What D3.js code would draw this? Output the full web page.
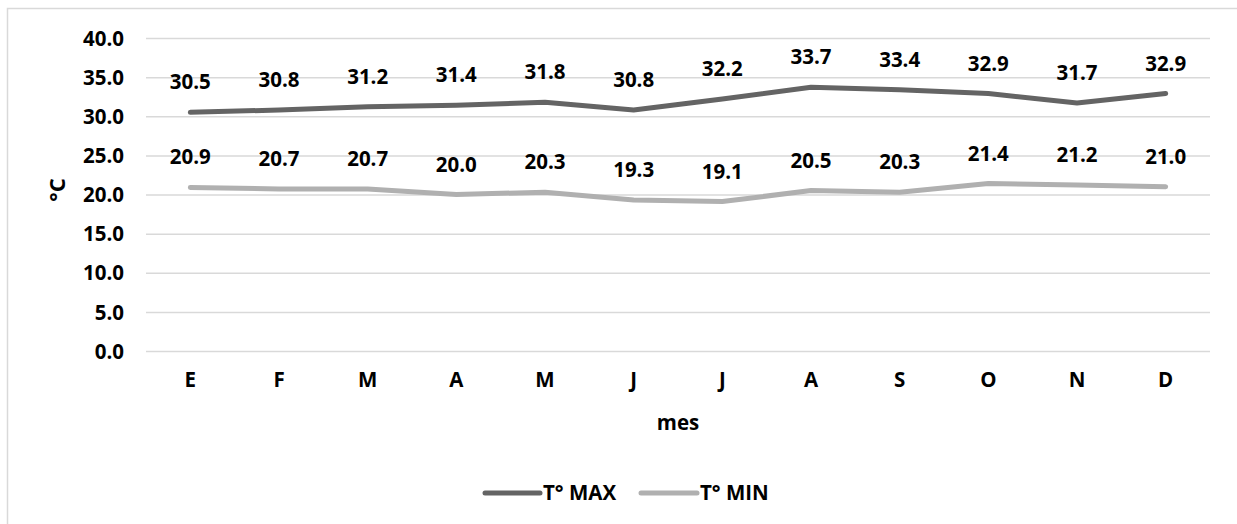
<!DOCTYPE html>
<html>
<head>
<meta charset="utf-8">
<script src="https://cdn.jsdelivr.net/npm/d3@7"></script>
<style>
  html, body { margin: 0; padding: 0; background: #fff; }
  svg { display: block; }
  text { font-family: "Open Sans", "Liberation Sans", sans-serif; font-weight: 700; fill: #000; }
</style>
</head>
<body>
<svg id="chart" width="1237" height="524"></svg>
<script>
// Monthly temperatures (°C)
const months = ["E", "F", "M", "A", "M", "J", "J", "A", "S", "O", "N", "D"];
const tMax = [30.5, 30.8, 31.2, 31.4, 31.8, 30.8, 32.2, 33.7, 33.4, 32.9, 31.7, 32.9];
const tMin = [20.9, 20.7, 20.7, 20.0, 20.3, 19.3, 19.1, 20.5, 20.3, 21.4, 21.2, 21.0];
const yTicks = [0, 5, 10, 15, 20, 25, 30, 35, 40];
const seriesNames = ["T° MAX", "T° MIN"];

const series = [
  { name: seriesNames[0], values: tMax, color: "#646464" },
  { name: seriesNames[1], values: tMin, color: "#b0b0b0" }
];

const FS = 20.5;

const svg = d3.select("#chart");
const W = 1237, H = 524;
const plot = { left: 146, right: 1210, top: 38, bottom: 351 };

// Outer frame (top and left edges visible in the window)
svg.append("path")
  .attr("d", `M7.5,${H} L7.5,8.5 L${W},8.5`)
  .attr("fill", "none")
  .attr("stroke", "#d9d9d9")
  .attr("stroke-width", 1.5);

const x = d3.scaleBand()
  .domain(d3.range(months.length))
  .range([plot.left, plot.right]);

const y = d3.scaleLinear()
  .domain([0, 40])
  .range([plot.bottom, plot.top]);

// Horizontal gridlines + y tick labels
const yAxis = d3.axisLeft(y)
  .tickValues(yTicks)
  .tickSize(-(plot.right - plot.left))
  .tickPadding(22)
  .tickFormat(d3.format(".1f"));

const gy = svg.append("g")
  .attr("transform", `translate(${plot.left},0)`)
  .call(yAxis);
gy.select(".domain").remove();
gy.selectAll(".tick line").attr("stroke", "#d9d9d9").attr("stroke-width", 1.5);
gy.selectAll(".tick text")
  .attr("font-size", FS)
  .attr("dy", "0.35em");

// x category labels
const xAxis = d3.axisBottom(x)
  .tickSize(0)
  .tickPadding(21)
  .tickFormat(i => months[i]);
const gx = svg.append("g")
  .attr("transform", `translate(0,${plot.bottom})`)
  .call(xAxis);
gx.select(".domain").remove();
gx.selectAll(".tick text").attr("font-size", FS);

// Axis titles
svg.append("text")
  .attr("transform", `translate(57,190) rotate(-90)`)
  .attr("text-anchor", "middle")
  .attr("dy", "0.35em")
  .attr("font-size", 22)
  .text("°C");

svg.append("text")
  .attr("x", (plot.left + plot.right) / 2)
  .attr("y", 423)
  .attr("text-anchor", "middle")
  .attr("dy", "0.35em")
  .attr("font-size", FS)
  .text("mes");

// Lines
const line = d3.line()
  .x((d, i) => x(i) + x.bandwidth() / 2)
  .y(d => y(d));

series.forEach(s => {
  svg.append("path")
    .datum(s.values)
    .attr("d", line)
    .attr("fill", "none")
    .attr("stroke", s.color)
    .attr("stroke-width", 5)
    .attr("stroke-linejoin", "round")
    .attr("stroke-linecap", "round");

  svg.append("g")
    .selectAll("text")
    .data(s.values)
    .join("text")
    .attr("x", (d, i) => x(i) + x.bandwidth() / 2)
    .attr("y", d => y(d) - 23)
    .attr("text-anchor", "middle")
    .attr("font-size", FS)
    .text(d => d.toFixed(1));
});

// Legend
const legend = svg.append("g");
const legendItems = [
  { x0: 485, x1: 540, tx: 543 },
  { x0: 641, x1: 697, tx: 700 }
];
series.forEach((s, k) => {
  const it = legendItems[k];
  legend.append("line")
    .attr("x1", it.x0).attr("x2", it.x1)
    .attr("y1", 493).attr("y2", 493)
    .attr("stroke", s.color)
    .attr("stroke-width", 5)
    .attr("stroke-linecap", "round");
  legend.append("text")
    .attr("x", it.tx)
    .attr("y", 493)
    .attr("dy", "0.35em")
    .attr("font-size", FS)
    .text(s.name);
});
</script>
</body>
</html>
